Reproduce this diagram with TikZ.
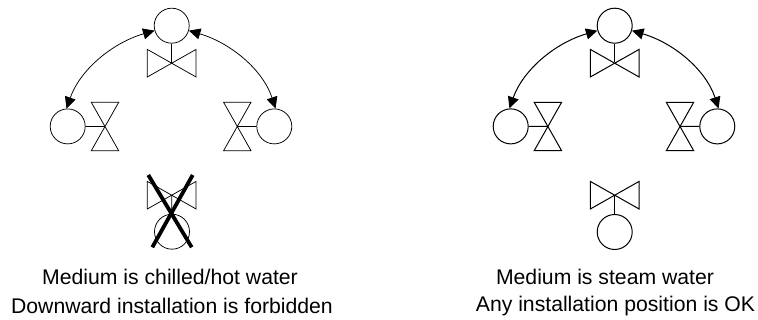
\documentclass[tikz,border=0pt]{standalone}
\usepackage{fontspec}
\setmainfont{Liberation Sans}
\usetikzlibrary{arrows.meta}
\tikzset{
  x=1pt,y=-1pt,
  gauge/.style={circle,draw,minimum size=35pt,inner sep=0pt},
  hub/.style={inner sep=0pt,minimum size=0pt},
  swing/.style={{Triangle[length=11.5pt,width=11pt]}-{Triangle[length=11.5pt,width=11pt]}},
  caption/.style={font=\fontsize{21.2pt}{25pt}\selectfont,inner sep=0pt,anchor=center},
  crossbar/.style={line width=3.8pt},
}
\newcommand{\hvalve}[1]{% horizontal bow-tie
  \draw (#1)++(-24.4,-13.6) -- ++(48.8,27.6) -- ++(0,-27.6) -- ++(-48.8,27.6) -- cycle;}
\newcommand{\vvalve}[1]{% vertical bow-tie
  \draw (#1)++(-13.7,-24.2) -- ++(27.4,48.4) -- ++(-27.4,0) -- ++(27.4,-48.4) -- cycle;}
\begin{document}
\begin{tikzpicture}
\useasboundingbox (0,0) rectangle (758,320);
\fill[white] (0,0) rectangle (758,320);
% left group
\begin{scope}[line width=0.75pt]
\node[gauge] (lt) at (171.7,25.7) {};
\node[gauge] (ll) at (67.7,126.4) {};
\node[gauge] (lr) at (274.3,126.4) {};
\node[gauge] (lb) at (172,231.7) {};
\node[hub] (ltv) at (171.7,63) {};
\node[hub] (llv) at (105,126.5) {};
\node[hub] (lrv) at (237.3,126.5) {};
\node[hub] (lbv) at (171.7,195) {};
\hvalve{ltv} \vvalve{llv} \vvalve{lrv} \hvalve{lbv}
\draw (lt) -- (ltv);
\draw (ll) -- (llv);
\draw (lr) -- (lrv);
\draw (lb) -- (lbv);
\draw[swing] (lt.196) .. controls (112,43) and (80,70) .. (ll.94);
\draw[swing] (lt.-16) .. controls (231,43) and (263,70) .. (lr.86);
\end{scope}
\coordinate (xa) at (148.3,175);
\coordinate (xb) at (191.7,247.3);
\coordinate (xc) at (192.7,175);
\coordinate (xd) at (152.3,247.3);
\draw[crossbar] (xa) -- (xb);
\draw[crossbar] (xc) -- (xd);
% right group
\begin{scope}[line width=1pt]
\node[gauge] (rt) at (614.7,25.7) {};
\node[gauge] (rl) at (510.7,126.4) {};
\node[gauge] (rr) at (717.3,126.4) {};
\node[gauge] (rb) at (614.7,232) {};
\node[hub] (rtv) at (614.7,63) {};
\node[hub] (rlv) at (547.9,126.5) {};
\node[hub] (rrv) at (680,126.5) {};
\node[hub] (rbv) at (614.7,195) {};
\hvalve{rtv} \vvalve{rlv} \vvalve{rrv} \hvalve{rbv}
\draw (rt) -- (rtv);
\draw (rl) -- (rlv);
\draw (rr) -- (rrv);
\draw (rb) -- (rbv);
\draw[swing] (rt.196) .. controls (555,43) and (523,70) .. (rl.94);
\draw[swing] (rt.-16) .. controls (674,43) and (706,70) .. (rr.86);
\end{scope}
\node[caption] (c1) at (170,277) {Medium is chilled/hot water};
\node[caption] (c2) at (172,306) {Downward installation is forbidden};
\node[caption] (c3) at (605,277) {Medium is steam water};
\node[caption] (c4) at (615.5,306) {Any installation position is OK};
\end{tikzpicture}
\end{document}
